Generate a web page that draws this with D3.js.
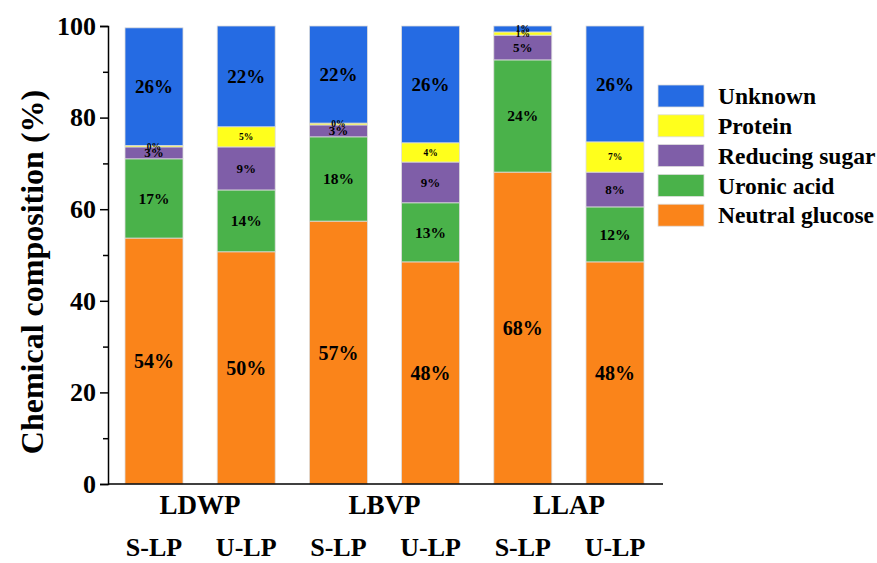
<!DOCTYPE html>
<html>
<head>
<meta charset="utf-8">
<script src="https://cdn.jsdelivr.net/npm/d3@7"></script>
<style>
  body { margin: 0; background: #fff; }
  svg text { font-family: "Liberation Serif", "Times New Roman", Times, serif; font-weight: bold; }
</style>
</head>
<body>
<script>
// groups and samples
const groups = ["LDWP", "LBVP", "LLAP"];
const samples = ["S-LP", "U-LP"];
const bars = ["LDWP S-LP", "LDWP U-LP", "LBVP S-LP", "LBVP U-LP", "LLAP S-LP", "LLAP U-LP"];

// series, bottom to top
const series = ["Neutral glucose", "Uronic acid", "Reducing sugar", "Protein", "Unknown"];
const colors = ["#FA841A", "#4AB24A", "#7F5EA8", "#FFFF1C", "#256BE3"];

const neutral  = [53.7, 50.7, 57.4, 48.5, 68.1, 48.5];
const uronic   = [17.3, 13.5, 18.4, 12.9, 24.5, 12.0];
const reducing = [2.6, 9.4, 2.6, 8.9, 5.4, 7.6];
const protein  = [0.3, 4.4, 0.4, 4.2, 0.7, 6.6];
const unknown  = [25.7, 22.0, 21.2, 25.5, 1.3, 25.3];

const labels = [
  ["54%", "50%", "57%", "48%", "68%", "48%"],
  ["17%", "14%", "18%", "13%", "24%", "12%"],
  ["3%", "9%", "3%", "9%", "5%", "8%"],
  ["0%", "5%", "0%", "4%", "1%", "7%"],
  ["26%", "22%", "22%", "26%", "1%", "26%"]
];
const yTicks = [0, 20, 40, 60, 80, 100];
const yMinor = [10, 30, 50, 70, 90];

const values = [neutral, uronic, reducing, protein, unknown];

const width = 877, height = 563;
const margin = { left: 108, top: 26, bottom: 79 };
const serif = "'Liberation Serif', 'Times New Roman', Times, serif";

const svg = d3.select("body").append("svg")
  .attr("width", width)
  .attr("height", height)
  .attr("font-family", serif)
  .attr("font-weight", "bold");

const x = d3.scaleBand()
  .domain(bars)
  .range([125, 644])
  .paddingInner(0.371)
  .paddingOuter(0);

const y = d3.scaleLinear()
  .domain([0, 100])
  .range([height - margin.bottom, margin.top]);

// stack data
const rows = bars.map((b, i) => {
  const r = { bar: b };
  series.forEach((s, k) => r[s] = values[k][i]);
  return r;
});
const stacked = d3.stack().keys(series)(rows);

// label size per series (tiny top segment of LLAP S-LP gets a small one)
const fontSizes = [20, 15.5, 13, 9.5, 19];

const layer = svg.append("g").selectAll("g")
  .data(stacked)
  .join("g")
  .attr("fill", (d, k) => colors[k]);

layer.selectAll("rect")
  .data(d => d)
  .join("rect")
  .attr("x", d => x(d.data.bar))
  .attr("y", d => y(d[1]))
  .attr("width", x.bandwidth())
  .attr("height", d => y(d[0]) - y(d[1]))
  .attr("stroke", "#dcdcdc")
  .attr("stroke-width", 0.8);

// segment labels
stacked.forEach((s, k) => {
  svg.append("g").selectAll("text")
    .data(s)
    .join("text")
    .attr("x", d => x(d.data.bar) + x.bandwidth() / 2)
    .attr("y", d => y((d[0] + d[1]) / 2))
    .attr("dy", "0.35em")
    .attr("text-anchor", "middle")
    .attr("font-size", (d, i) => (k === 4 && i === 4) ? 9.5 : fontSizes[k])
    .attr("fill", "#000")
    .text((d, i) => labels[k][i]);
});

// y axis
const yAxis = svg.append("g")
  .attr("transform", `translate(${margin.left},0)`)
  .call(d3.axisLeft(y).tickValues(yTicks).tickSize(8).tickPadding(4));
yAxis.selectAll("text")
  .attr("font-size", 26).attr("fill", "#000")
  .attr("font-family", serif).attr("font-weight", "bold");
yAxis.select(".domain").attr("stroke", "#000").attr("stroke-width", 1.5);
yAxis.selectAll(".tick line").attr("stroke", "#000").attr("stroke-width", 1.5);

svg.append("g")
  .attr("transform", `translate(${margin.left},0)`)
  .call(d3.axisLeft(y).tickValues(yMinor).tickSize(5).tickFormat(""))
  .call(g => g.select(".domain").remove())
  .selectAll(".tick line").attr("stroke", "#000").attr("stroke-width", 1.5);

// x axis line
svg.append("line")
  .attr("x1", margin.left).attr("x2", 663)
  .attr("y1", y(0)).attr("y2", y(0))
  .attr("stroke", "#000").attr("stroke-width", 1.5);

// group labels
groups.forEach((g, gi) => {
  const b1 = x(bars[gi * 2]) + x.bandwidth() / 2;
  const b2 = x(bars[gi * 2 + 1]) + x.bandwidth() / 2;
  svg.append("text")
    .attr("x", (b1 + b2) / 2)
    .attr("y", 514)
    .attr("text-anchor", "middle")
    .attr("font-size", 27)
    .text(g);
});

// sample labels
svg.append("g").selectAll("text")
  .data(bars)
  .join("text")
  .attr("x", d => x(d) + x.bandwidth() / 2)
  .attr("y", 556)
  .attr("text-anchor", "middle")
  .attr("font-size", 26)
  .text((d, i) => samples[i % 2]);

// y title
svg.append("text")
  .attr("transform", `translate(43,272) rotate(-90)`)
  .attr("text-anchor", "middle")
  .attr("font-size", 32)
  .text("Chemical composition (%)");

// legend, top to bottom
const legendItems = series.map((s, k) => ({ name: s, color: colors[k] })).reverse();
const legend = svg.append("g").selectAll("g")
  .data(legendItems)
  .join("g")
  .attr("transform", (d, i) => `translate(658,${85 + i * 29.8})`);

legend.append("rect")
  .attr("width", 46)
  .attr("height", 22)
  .attr("fill", d => d.color)
  .attr("stroke", "#dcdcdc")
  .attr("stroke-width", 0.8);

legend.append("text")
  .attr("x", 60)
  .attr("y", 11)
  .attr("dy", "0.35em")
  .attr("font-size", 23.5)
  .text(d => d.name);
</script>
</body>
</html>
